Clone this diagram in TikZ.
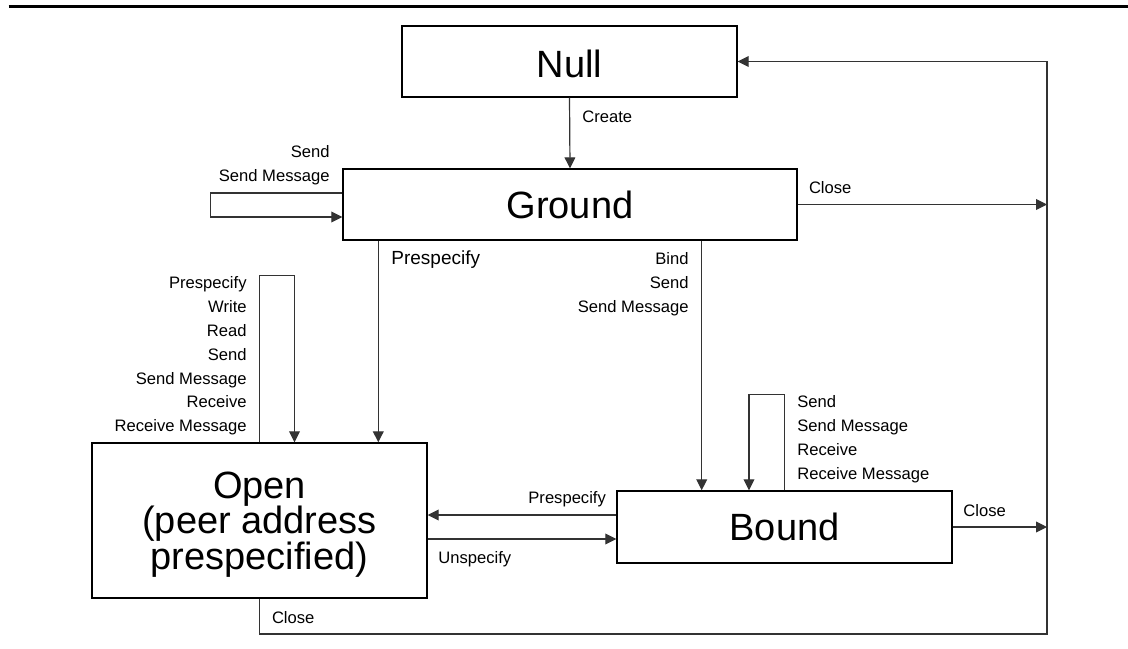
\documentclass[tikz,border=0pt]{standalone}
\usepackage{fontspec}
\setmainfont{Liberation Sans}
\usetikzlibrary{arrows.meta}

\begin{document}
\begin{tikzpicture}[x=0.5pt, y=-0.5pt]
    \tikzstyle{state} = [draw=black, line width=0.7pt, inner sep=0pt, minimum width=167.5pt, minimum height=35.5pt, align=center, font=\fontsize{19}{17.85}\selectfont]
    \tikzstyle{trans} = [draw=black!80, line width=0.6pt, -{Triangle[length=5.5pt,width=5.4pt]}]
    \tikzstyle{lbl} = [inner sep=0pt, font=\fontsize{8.3}{11.9}\selectfont]
    \tikzstyle{one} = [lbl, text height=6pt, text depth=0pt]

    \useasboundingbox (0,0) rectangle (1128,648);
    \draw[line width=1.3pt] (8.6,6.5) -- (1128,6.5);

    \node[state] (null) at (569.5,61.5) {};
    \node at ([yshift=-1.2pt]null.center) [font=\fontsize{19}{17.85}\selectfont] (nulll) {Null};
    \node[state, minimum width=227pt] (ground) at (570,204.5) {Ground};
    % open text sits a little low in its box
    \node[state, minimum height=77.5pt, label={[font=\fontsize{19}{17.85}\selectfont, align=center, yshift=-2pt]center:Open\\(peer address\\prespecified)}] (open) at (259.5,520.5) {};
    \node[state, minimum height=36pt] (bound) at (784.5,527) {Bound};
    \coordinate (bus) at (1047,634);

    \draw[trans] (null.south) -- (ground.north);
    \draw[trans] ([yshift=5.75pt]ground.west) -- ++(-131.5,0) |- ([yshift=-6.25pt]ground.west);
    \draw[trans] (ground.east) -- (ground.east -| bus);
    \draw[trans] ([xshift=18pt]ground.south west) -- ([xshift=18pt]ground.south west |- open.north);
    \draw[trans] ([xshift=-48pt]ground.south east) -- ([xshift=-48pt]ground.south east |- bound.north);
    \draw[trans] (open.north) -- ++(0,-167) -| ([xshift=17.5pt]open.north);
    \draw[trans] (bound.north) -- ++(0,-96) -| ([xshift=-17.75pt]bound.north);
    \draw[trans] ([yshift=6pt]bound.west) -- ([yshift=6pt]bound.west -| open.east);
    \draw[trans] ([yshift=-6pt]bound.west -| open.east) -- ([yshift=-6pt]bound.west);
    \draw[trans] (bound.east) -- (bound.east -| bus);
    % every close goes back to null along the right side
    \draw[trans] (open.south) |- (bus) |- (null.east);

    \node[lbl, anchor=east, align=right] (gsendl) at (330,165.5) {Send\\Send Message};
    \node[one, anchor=west] (createl) at (582,116) {Create};
    \node[one, anchor=west] (gclosel) at (808.6,187) {Close};
    \node[one, anchor=west, font=\fontsize{9.5}{11}\selectfont, text height=6.8pt] (gprel) at (391,258) {Prespecify};
    \node[lbl, anchor=east, align=right] (gbindl) at (689,284.5) {Bind\\Send\\Send Message};
    \node[lbl, anchor=east, align=right] (oloopl) at (247,356) {Prespecify\\Write\\Read\\Send\\Send Message\\Receive\\Receive Message};
    \node[lbl, anchor=west, align=left] (bloopl) at (797,439) {Send\\Send Message\\Receive\\Receive Message};
    \node[one, anchor=west] (bprel) at (528,497) {Prespecify};
    \node[one, anchor=west] (unspecl) at (438,557) {Unspecify};
    \node[one, anchor=west] (bclosel) at (963,510) {Close};
    \node[one, anchor=west] (oclosel) at (271.6,617) {Close};
\end{tikzpicture}
\end{document}
